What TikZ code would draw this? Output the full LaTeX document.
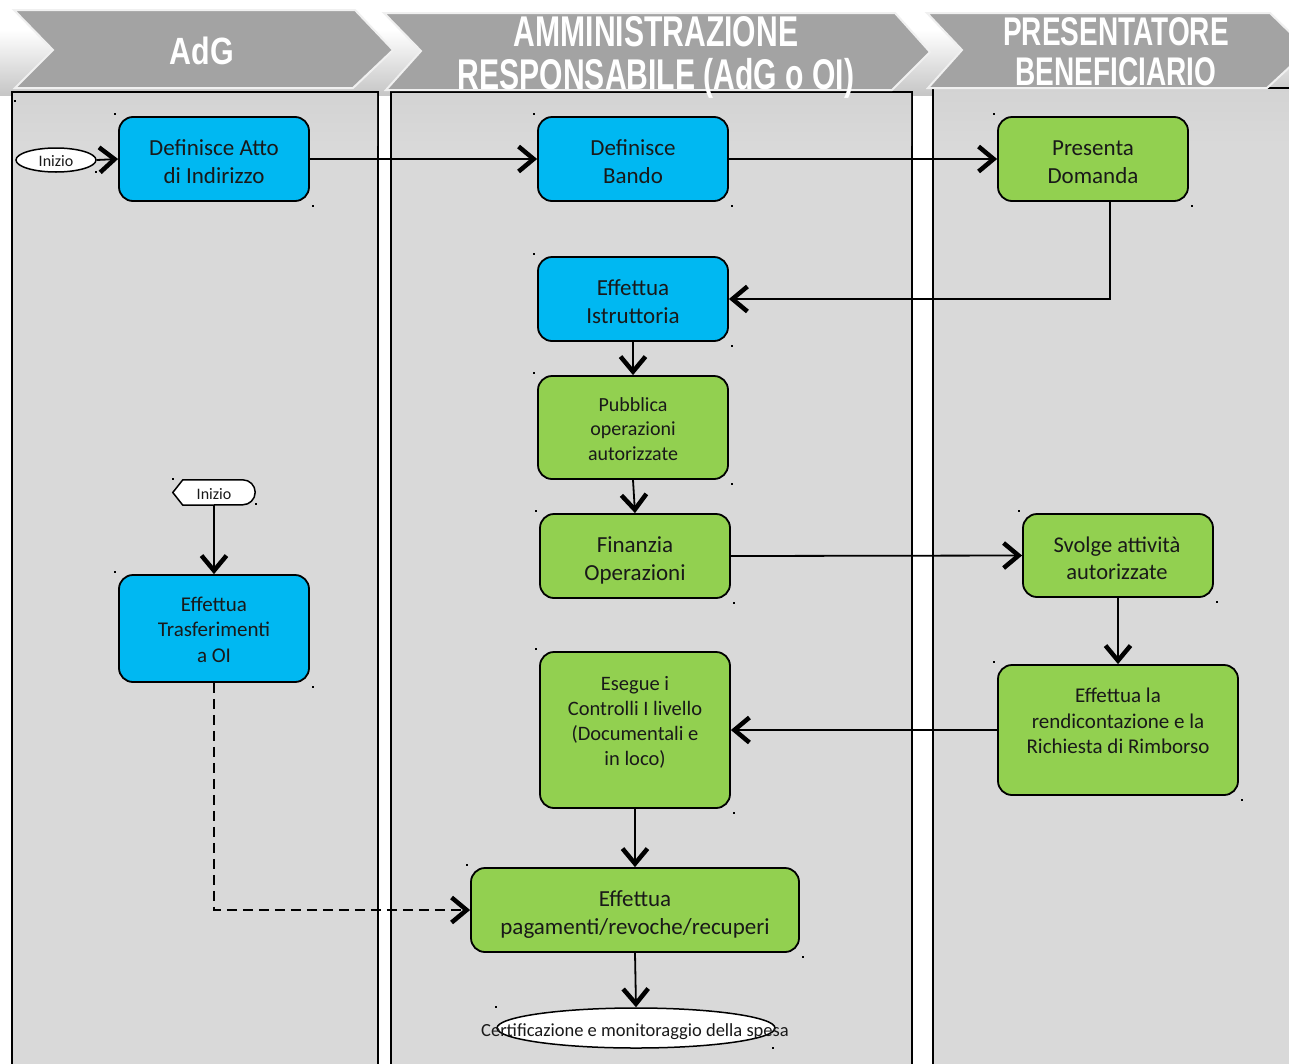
\documentclass[tikz,border=0pt]{standalone}
\usepackage{fontspec}
\usepackage{graphicx}
\setmainfont{Carlito}
\newfontfamily\hdrfont{Liberation Sans}
\usetikzlibrary{arrows.meta,shapes.geometric}
\definecolor{lanegray}{RGB}{217,217,217}
\definecolor{shadowgray}{RGB}{188,188,188}
\definecolor{chevgray}{RGB}{163,163,163}
\definecolor{boxblue}{RGB}{0,184,242}
\definecolor{boxgreen}{RGB}{146,208,80}
\tikzset{
  lane/.style={draw=black,line width=1.5pt,fill=lanegray},
  chev/.style={fill=chevgray,draw=white!88!gray,line width=2pt,line join=miter},
  hdr/.style={text=white,align=center,inner sep=0pt},
  box/.style={draw=black,line width=1.8pt,rounded corners=14pt,inner sep=0pt},
  bluebox/.style={box,fill=boxblue},
  greenbox/.style={box,fill=boxgreen},
  txt/.style={align=center,inner sep=0pt,text=black!90},
  arr/.style={line width=1.8pt,-{Straight Barb[length=15pt,width=25pt,line width=4.5pt]}},
  dotmark/.style={fill=black}
}
\begin{document}
\begin{tikzpicture}[x=1pt,y=-1pt]
\useasboundingbox (0,0) rectangle (1289,1063);
\clip (0,0) rectangle (1289,1063);
\fill[white] (0,0) rectangle (1289,1063);
% header backdrop
\shade[top color=white,bottom color=gray!45] (0,30) rectangle (1289,95);
% lanes
\draw[lane] (12,92) rectangle (378,1080);
\draw[lane] (391,92) rectangle (912,1080);
\draw[lane] (933,88) rectangle (1300,1080);
\shade[top color=lanegray!80!shadowgray,middle color=shadowgray,bottom color=lanegray] (13,93) rectangle (377,145);
\shade[top color=lanegray!80!shadowgray,middle color=shadowgray,bottom color=lanegray] (392,93) rectangle (911,145);
\shade[top color=lanegray!80!shadowgray,middle color=shadowgray,bottom color=lanegray] (934,89) rectangle (1289,145);
% chevrons
\draw[chev] (14,10) -- (355,10) -- (393,50) -- (353,88) -- (15,88) -- (53,50) -- cycle;
\draw[chev] (384,13) -- (895,13) -- (930,52) -- (892,90) -- (386,90) -- (421,51) -- cycle;
\draw[chev] (927,13) -- (1270,13) -- (1308,50) -- (1267,88) -- (928,88) -- (962,50) -- cycle;
\node[hdr] (h1) at (202,51) {\hdrfont\bfseries\fontsize{38}{42}\selectfont\scalebox{0.8}[1]{AdG}};
\node[hdr] (h2a) at (656,32) {\hdrfont\bfseries\fontsize{43}{43}\selectfont\scalebox{0.7}[1]{AMMINISTRAZIONE}};
\node[hdr] (h2b) at (656,78) {\hdrfont\bfseries\fontsize{43}{43}\selectfont\scalebox{0.7}[1]{RESPONSABILE (AdG o OI)}};
\node[hdr] (h3a) at (1116,32) {\hdrfont\bfseries\fontsize{40}{40}\selectfont\scalebox{0.7}[1]{PRESENTATORE}};
\node[hdr] (h3b) at (1116,72) {\hdrfont\bfseries\fontsize{40}{40}\selectfont\scalebox{0.7}[1]{BENEFICIARIO}};
% boxes
\node[bluebox,minimum width=190pt,minimum height=84pt] (defatto) at (214,159) {};
\node[txt,font=\fontsize{23}{28}\selectfont] (defattotxt) at (214,162) {Definisce Atto\\di Indirizzo};
\node[bluebox,minimum width=190pt,minimum height=84pt] (defbando) at (633,159) {};
\node[txt,font=\fontsize{23}{28}\selectfont] (defbandotxt) at (633,162) {Definisce\\Bando};
\node[greenbox,minimum width=190pt,minimum height=84pt] (presenta) at (1093,159) {};
\node[txt,font=\fontsize{23}{28}\selectfont] (presentatxt) at (1093,162) {Presenta\\Domanda};
\node[bluebox,minimum width=190pt,minimum height=84pt] (istr) at (633,299) {};
\node[txt,font=\fontsize{23}{28}\selectfont] (istrtxt) at (633,302) {Effettua\\Istruttoria};
\node[greenbox,minimum width=190pt,minimum height=103pt] (pubb) at (633,427.5) {};
\node[txt,font=\fontsize{20}{24.5}\selectfont] (pubbtxt) at (633,429) {Pubblica\\operazioni\\autorizzate};
\node[greenbox,minimum width=190pt,minimum height=84pt] (finanzia) at (635,556) {};
\node[txt,font=\fontsize{23}{28}\selectfont] (finanziatxt) at (635,560) {Finanzia\\Operazioni};
\node[greenbox,minimum width=190pt,minimum height=83pt] (svolge) at (1118,555.5) {};
\node[txt,font=\fontsize{22.5}{27}\selectfont] (svolgetxt) at (1117,558.5) {Svolge attività\\autorizzate};
\node[bluebox,minimum width=190pt,minimum height=107pt] (trasf) at (214,628.5) {};
\node[txt,font=\fontsize{21}{25.5}\selectfont] (trasftxt) at (214,629.5) {Effettua\\Trasferimenti\\a OI};
\node[greenbox,minimum width=190pt,minimum height=156pt] (esegue) at (635,730) {};
\node[txt,font=\fontsize{20.5}{25}\selectfont] (eseguetxt) at (635,722.5) {Esegue i\\Controlli I livello\\(Documentali e\\in loco)};
\node[greenbox,minimum width=240pt,minimum height=130pt] (rendic) at (1118,730) {};
\node[txt,font=\fontsize{21}{25.5}\selectfont] (rendictxt) at (1118,721) {Effettua la\\rendicontazione e la\\Richiesta di Rimborso};
\node[greenbox,minimum width=328pt,minimum height=84pt] (pagam) at (635,910) {};
\node[txt,font=\fontsize{23}{28}\selectfont] (pagamtxt) at (635,915) {Effettua\\pagamenti/revoche/recuperi};
% terminals
\node[ellipse,draw=black,line width=1.5pt,fill=white,minimum width=278pt,minimum height=40pt,inner sep=0pt] (cert) at (636,1028) {};
\node[txt,font=\fontsize{18.5}{21}\selectfont] (certtxt) at (635,1032) {Certificazione e monitoraggio della spesa};
\node[ellipse,draw=black,line width=1.5pt,fill=white,minimum width=80pt,minimum height=24pt,inner sep=0pt] (ini1) at (56,160) {};
\node[txt,font=\fontsize{16}{18}\selectfont] (ini1txt) at (56,161) {Inizio};
\node[minimum width=82pt,minimum height=25pt,inner sep=0pt] (ini2) at (214,492.5) {};
\draw[line width=1.5pt,fill=white] (ini2.west) -- ([xshift=10pt]ini2.north west) -- ([xshift=-12.5pt]ini2.north east) arc(90:-90:12.5pt) -- ([xshift=10pt]ini2.south west) -- cycle;
\node[txt,font=\fontsize{16}{18}\selectfont] (ini2txt) at (214,494) {Inizio};
% corner marks
\foreach \n in {defatto,defbando,presenta,istr,pubb,finanzia,svolge,trasf,esegue,rendic,pagam}{
  \fill[dotmark] ([shift={(-4,-3)}]\n.north west) rectangle +(2,2);
  \fill[dotmark] ([shift={(2,3)}]\n.south east) rectangle +(2,2);
}
\fill[dotmark] (14,100) rectangle +(2,2);
\fill[dotmark] (95,171) rectangle +(2,2);
\fill[dotmark] (172,478) rectangle +(2,2);
\fill[dotmark] (255,503) rectangle +(2,2);
\fill[dotmark] (495,1006) rectangle +(2,2);
\fill[dotmark] (772,1047) rectangle +(2,2);
% connectors
\draw[arr] (ini1.east) -- (defatto.west);
\draw[arr] (defatto.east) -- (defbando.west);
\draw[arr] (defbando.east) -- (presenta.west);
\draw[arr] ([xshift=17pt]presenta.south) |- (istr.east);
\draw[arr] (istr.south) -- (pubb.north);
\draw[arr] (pubb.south) -- (finanzia.north);
\draw[arr] (finanzia.east) -- (svolge.west);
\draw[arr] (svolge.south) -- (rendic.north);
\draw[arr] (rendic.west) -- (esegue.east);
\draw[arr] (esegue.south) -- (pagam.north);
\draw[arr] (ini2.south) -- (trasf.north);
\draw[arr,dash pattern=on 10pt off 6pt] (trasf.south) |- (pagam.west);
\draw[arr] (pagam.south) -- (cert.north);
\end{tikzpicture}
\end{document}
